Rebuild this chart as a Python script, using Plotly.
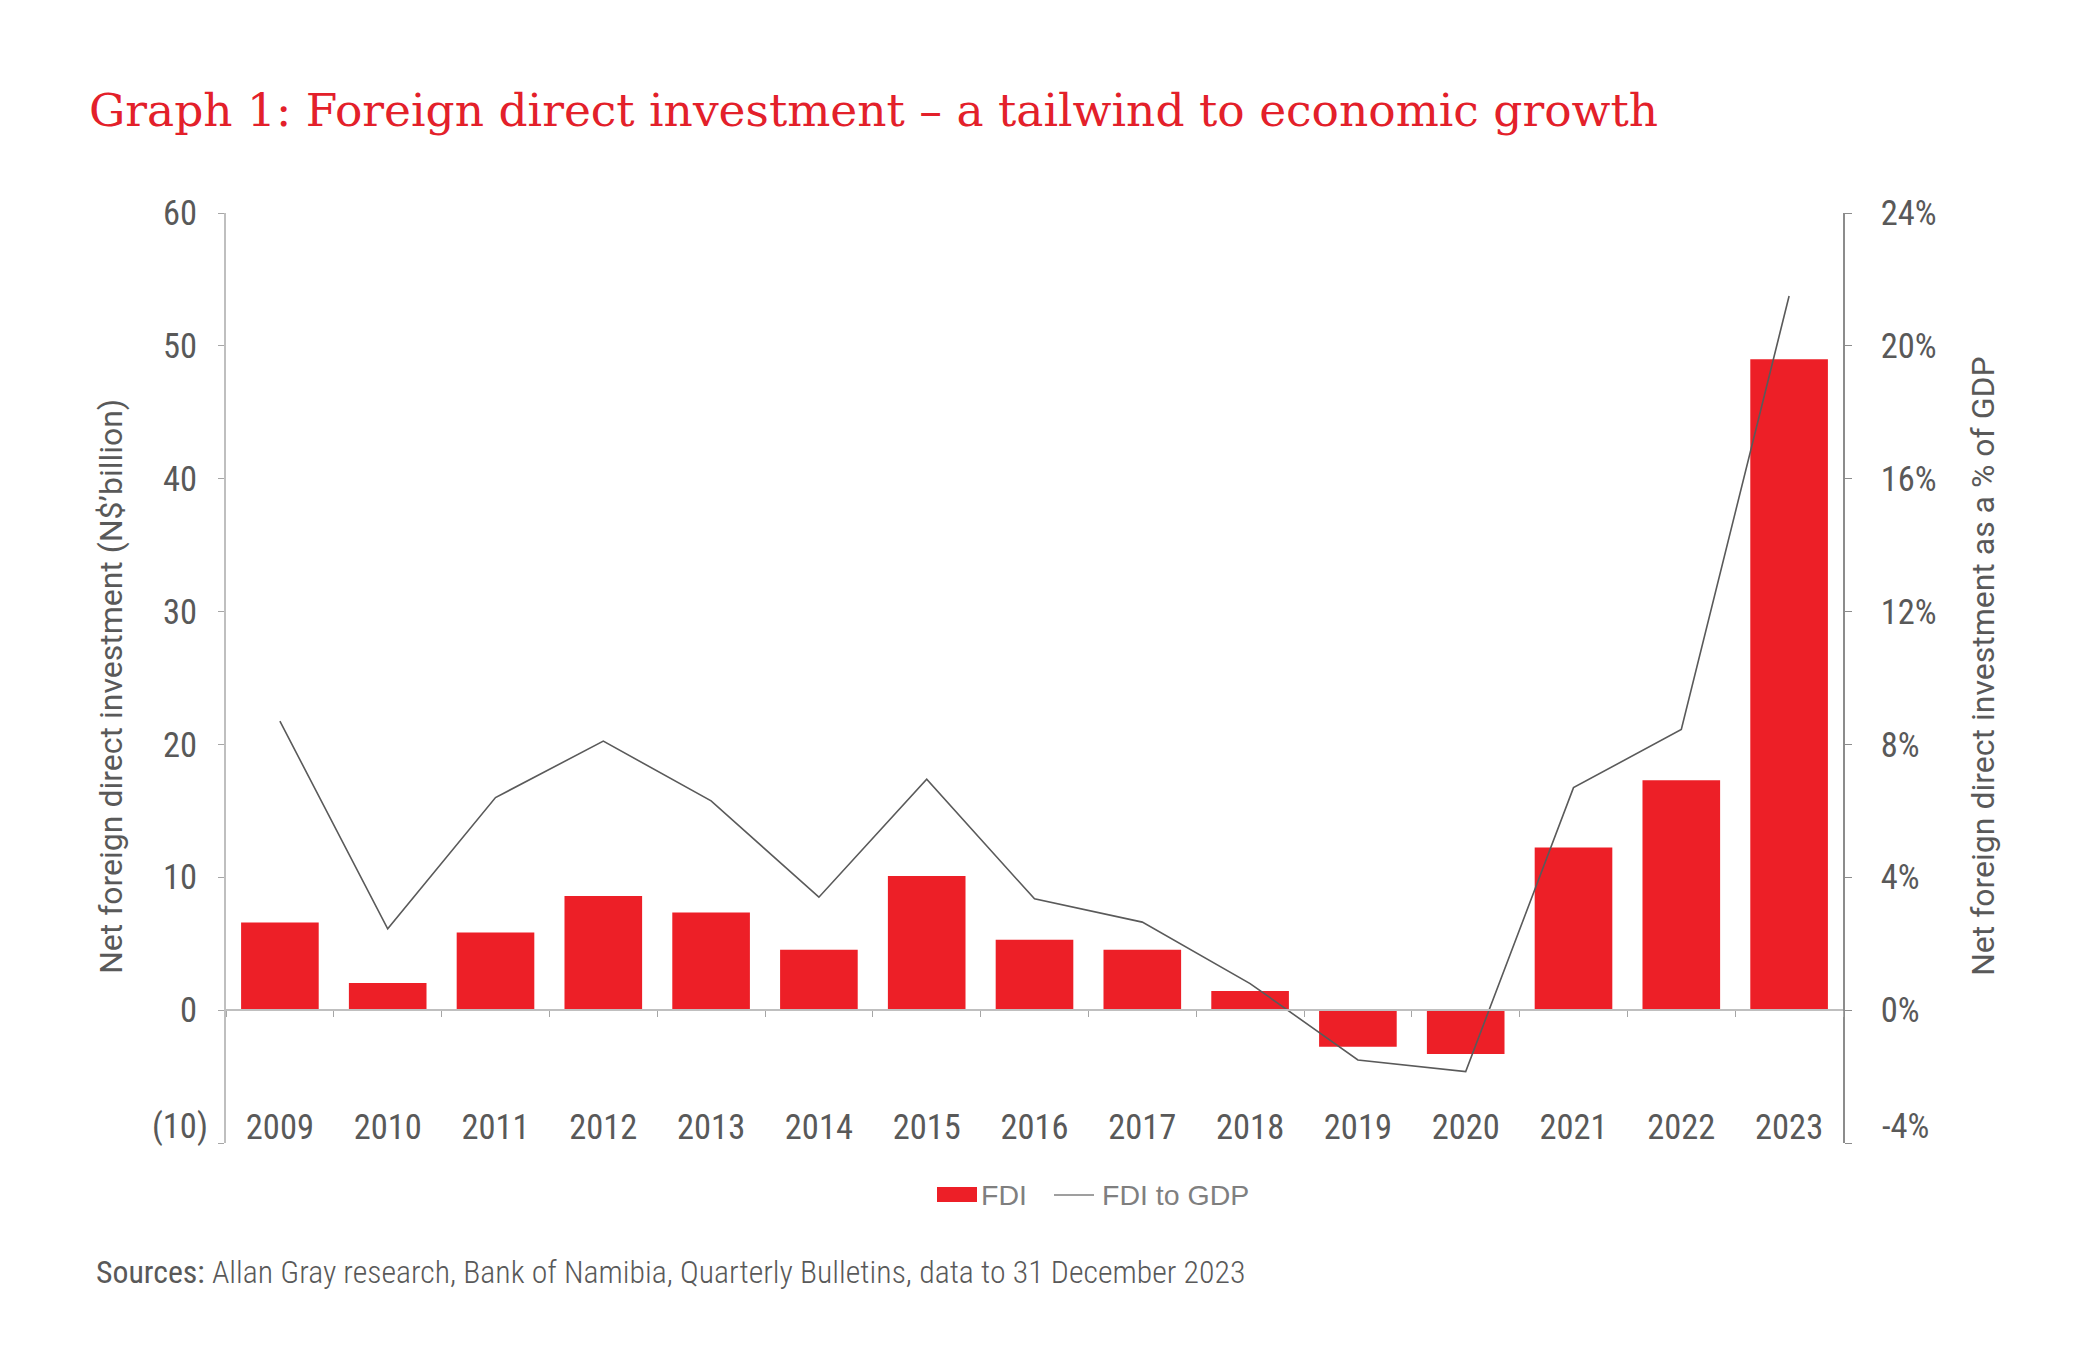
import plotly.graph_objects as go

years = ["2009", "2010", "2011", "2012", "2013", "2014", "2015", "2016",
         "2017", "2018", "2019", "2020", "2021", "2022", "2023"]
fdi_bn = [6.6, 2.05, 5.85, 8.6, 7.35, 4.55, 10.1, 5.3, 4.55, 1.45, -2.75, -3.3, 12.25, 17.3, 49.0]
fdi_to_gdp_pct = [8.7, 2.45, 6.4, 8.1, 6.3, 3.4, 6.95, 3.35, 2.65, 0.8, -1.5, -1.85, 6.7, 8.45, 21.5]

left_ticks = [-10, 0, 10, 20, 30, 40, 50, 60]
left_ticktext = ["(10)", "0", "10", "20", "30", "40", "50", "60"]
right_ticks = [-4, 0, 4, 8, 12, 16, 20, 24]
right_ticktext = ["-4%", "0%", "4%", "8%", "12%", "16%", "20%", "24%"]

W, H = 2087, 1371
L, R, T, B = 226, 1843, 213, 1143

def px(x):
    return (x - L) / (R - L)

def py(y):
    return (B - y) / (B - T)

RED = "#ED1F27"
GREY_TXT = "#595959"
TICKFONT = dict(family="Roboto Condensed, Roboto, sans-serif", size=34.5, color=GREY_TXT)
cat_range = [-0.5, len(years) - 0.5]

# bottom-most tick labels are drawn slightly raised (as in the original), so they are
# placed as annotations tied to the axis value
left_ticktext_axis = [""] + left_ticktext[1:]
right_ticktext_axis = [""] + right_ticktext[1:]

fig = go.Figure()
fig.add_trace(go.Bar(x=years, y=fdi_bn, name="FDI", marker=dict(color=RED, line=dict(width=0)),
                     xaxis="x", yaxis="y", showlegend=False))
fig.add_trace(go.Scatter(x=years, y=fdi_to_gdp_pct, name="FDI to GDP", mode="lines",
                         line=dict(color="#5a5a5a", width=1.6), xaxis="x2", yaxis="y2",
                         showlegend=False))

fig.update_layout(
    width=W, height=H,
    margin=dict(l=L, r=W - R, t=T, b=H - B, pad=0),
    paper_bgcolor="white", plot_bgcolor="white",
    bargap=0.28,
    title=dict(text="Graph 1: Foreign direct investment \u2013 a tailwind to economic growth",
               x=89 / W, xanchor="left", xref="container",
               y=1 - 110 / H, yanchor="middle", yref="container",
               font=dict(family="DejaVu Serif, serif", size=45.5, color="#E3202A")),
    xaxis=dict(type="category", domain=[0, 1], range=cat_range, anchor="free",
               position=py(1103), showline=False, ticks="", showgrid=False,
               zeroline=False, tickfont=TICKFONT, ticklabelstandoff=0),
    xaxis2=dict(type="category", overlaying="x", anchor="free", position=1 / 7,
                range=cat_range,
                showline=True, linecolor="#bfbfbf", linewidth=2, ticks="outside",
                tickson="boundaries", ticklen=6, tickcolor="#a6a6a6", tickwidth=1,
                showticklabels=False, showgrid=False, zeroline=False,
                categoryorder="array", categoryarray=years),
    yaxis=dict(range=[-10, 60], tickvals=left_ticks, ticktext=left_ticktext_axis,
               showline=True, linecolor="#bfbfbf", linewidth=2, ticks="outside",
               ticklen=6, tickcolor="#a6a6a6", showgrid=False, zeroline=False,
               tickfont=TICKFONT, ticklabelstandoff=14),
    yaxis2=dict(range=[-4, 24], tickvals=right_ticks, ticktext=right_ticktext_axis, overlaying="y",
                side="right", anchor="x2", showline=True, linecolor="#8c8c8c", linewidth=1.5,
                ticks="outside", ticklen=7, tickcolor="#8c8c8c", showgrid=False,
                zeroline=False, tickfont=TICKFONT, ticklabelstandoff=22),
    showlegend=False,
)

fig.add_annotation(text=left_ticktext[0], xref="paper", yref="y", x=px(210), y=left_ticks[0],
                   yshift=17, xanchor="right", yanchor="middle", showarrow=False, font=TICKFONT)
fig.add_annotation(text=right_ticktext[0], xref="paper", yref="y2", x=px(1880), y=right_ticks[0],
                   yshift=17, xanchor="left", yanchor="middle", showarrow=False, font=TICKFONT)

axis_title_font = dict(family="Roboto, sans-serif", size=32, color=GREY_TXT)
fig.add_annotation(text="Net foreign direct investment (N$\u2019billion)", xref="paper", yref="paper",
                   x=px(111), y=py(687), textangle=-90, showarrow=False,
                   xanchor="center", yanchor="middle", font=axis_title_font)
fig.add_annotation(text="Net foreign direct investment as a % of GDP", xref="paper", yref="paper",
                   x=px(1983), y=py(666), textangle=-90, showarrow=False,
                   xanchor="center", yanchor="middle", font=axis_title_font)

# Legend (custom)
fig.add_shape(type="rect", xref="paper", yref="paper", x0=px(937), x1=px(977),
              y0=py(1202), y1=py(1187), fillcolor=RED, line=dict(width=0))
fig.add_shape(type="line", xref="paper", yref="paper", x0=px(1054), x1=px(1094),
              y0=py(1195), y1=py(1195), line=dict(color="#7f7f7f", width=1.5))
leg_font = dict(family="Liberation Sans, Arial, sans-serif", size=28.5, color="#7f7f7f")
fig.add_annotation(text="FDI", xref="paper", yref="paper", x=px(979), y=py(1195),
                   xanchor="left", yanchor="middle", showarrow=False, font=leg_font)
fig.add_annotation(text="FDI to GDP", xref="paper", yref="paper", x=px(1100), y=py(1195),
                   xanchor="left", yanchor="middle", showarrow=False, font=leg_font)

fig.add_annotation(text="<span style='font-weight:400'>Sources:</span> Allan Gray research, Bank of Namibia, Quarterly Bulletins, data to 31 December 2023",
                   xref="paper", yref="paper", x=px(94), y=py(1272), xanchor="left",
                   yanchor="middle", showarrow=False,
                   font=dict(family="Roboto Condensed, Roboto, sans-serif", size=31.8,
                             color=GREY_TXT, weight=300))

fig.write_html("out.html")
